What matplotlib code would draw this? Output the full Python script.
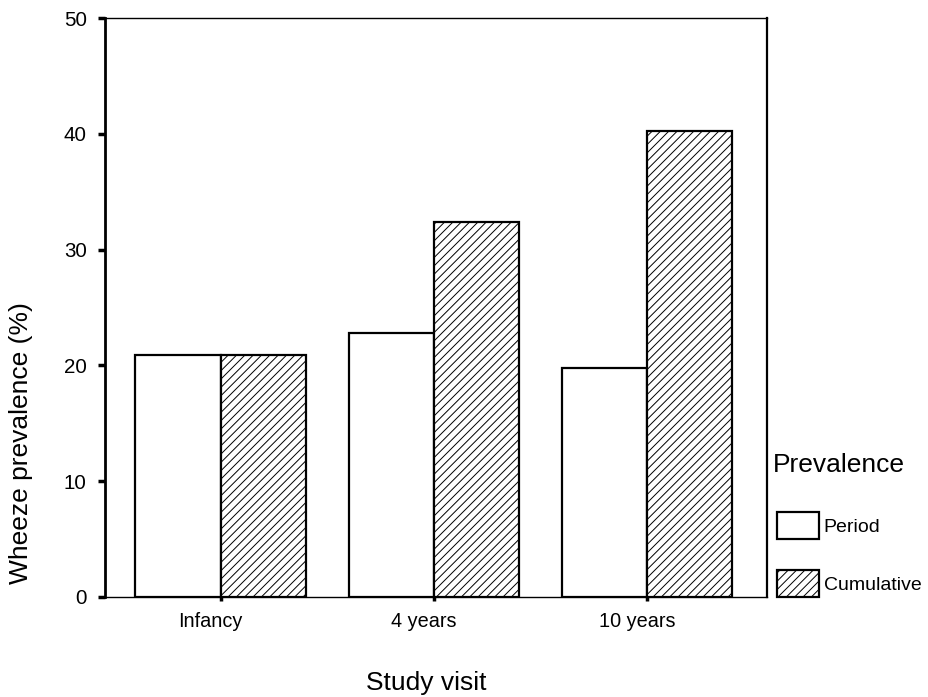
import matplotlib
matplotlib.use("Agg")
import matplotlib.pyplot as plt
from matplotlib.transforms import ScaledTranslation
import numpy as np

plt.rcParams['font.family'] = ['Liberation Sans', 'DejaVu Sans']
plt.rcParams['hatch.linewidth'] = 0.7

categories = ["Infancy", "4 years", "10 years"]
period = [20.9, 22.8, 19.8]
cumulative = [20.9, 32.4, 40.2]
yticks = [0, 10, 20, 30, 40, 50]
series_names = ["Period", "Cumulative"]

W, H = 929, 697
fig = plt.figure(figsize=(W / 100, H / 100), dpi=100)
ax = fig.add_axes([104.7 / W, 1 - 597 / H, (767 - 104.7) / W, (597 - 18) / H])

x = np.arange(len(categories))
w = 0.4
b1 = ax.bar(x - w / 2, period, width=w, facecolor='white', edgecolor='black', linewidth=1.6)
b2 = ax.bar(x + w / 2, cumulative, width=w, facecolor='white', edgecolor='black', linewidth=1.6,
            hatch='////')

ax.set_xlim(-0.544, 2.563)
ax.set_ylim(0, 50)
ax.set_yticks(yticks)
ax.set_xticks(x)
ax.set_xticklabels(categories, fontsize=14.3)
ax.tick_params(axis='y', labelsize=14.8, length=5, width=2.5, direction='out', pad=8)
ax.tick_params(axis='x', length=3, width=2.5, direction='out', pad=8)
shift = ScaledTranslation(-10 / 100, 0, fig.dpi_scale_trans)
for lab in ax.get_xticklabels():
    lab.set_transform(lab.get_transform() + shift)

ax.spines['top'].set_linewidth(1.0)
ax.spines['bottom'].set_linewidth(1.0)
ax.spines['right'].set_linewidth(1.6)
ax.spines['left'].set_linewidth(2.0)

fig.text(21 / W, 1 - 443 / H, "Wheeze prevalence (%)", fontsize=19, rotation=90,
         ha='center', va='center')
fig.text(426 / W, 1 - 690 / H, "Study visit", fontsize=19, ha='center', va='baseline')

fig.text(773 / W, 1 - 472 / H, "Prevalence", fontsize=19, ha='left', va='baseline')
leg = fig.legend(handles=[b1, b2], labels=series_names,
                 loc='upper left', bbox_to_anchor=(777 / W, 1 - 512 / H), frameon=False,
                 fontsize=14, handlelength=2.15, handleheight=1.75,
                 handletextpad=0.25, labelspacing=1.6, borderpad=0.0, borderaxespad=0.0)

fig.savefig("out.png", dpi=100)
